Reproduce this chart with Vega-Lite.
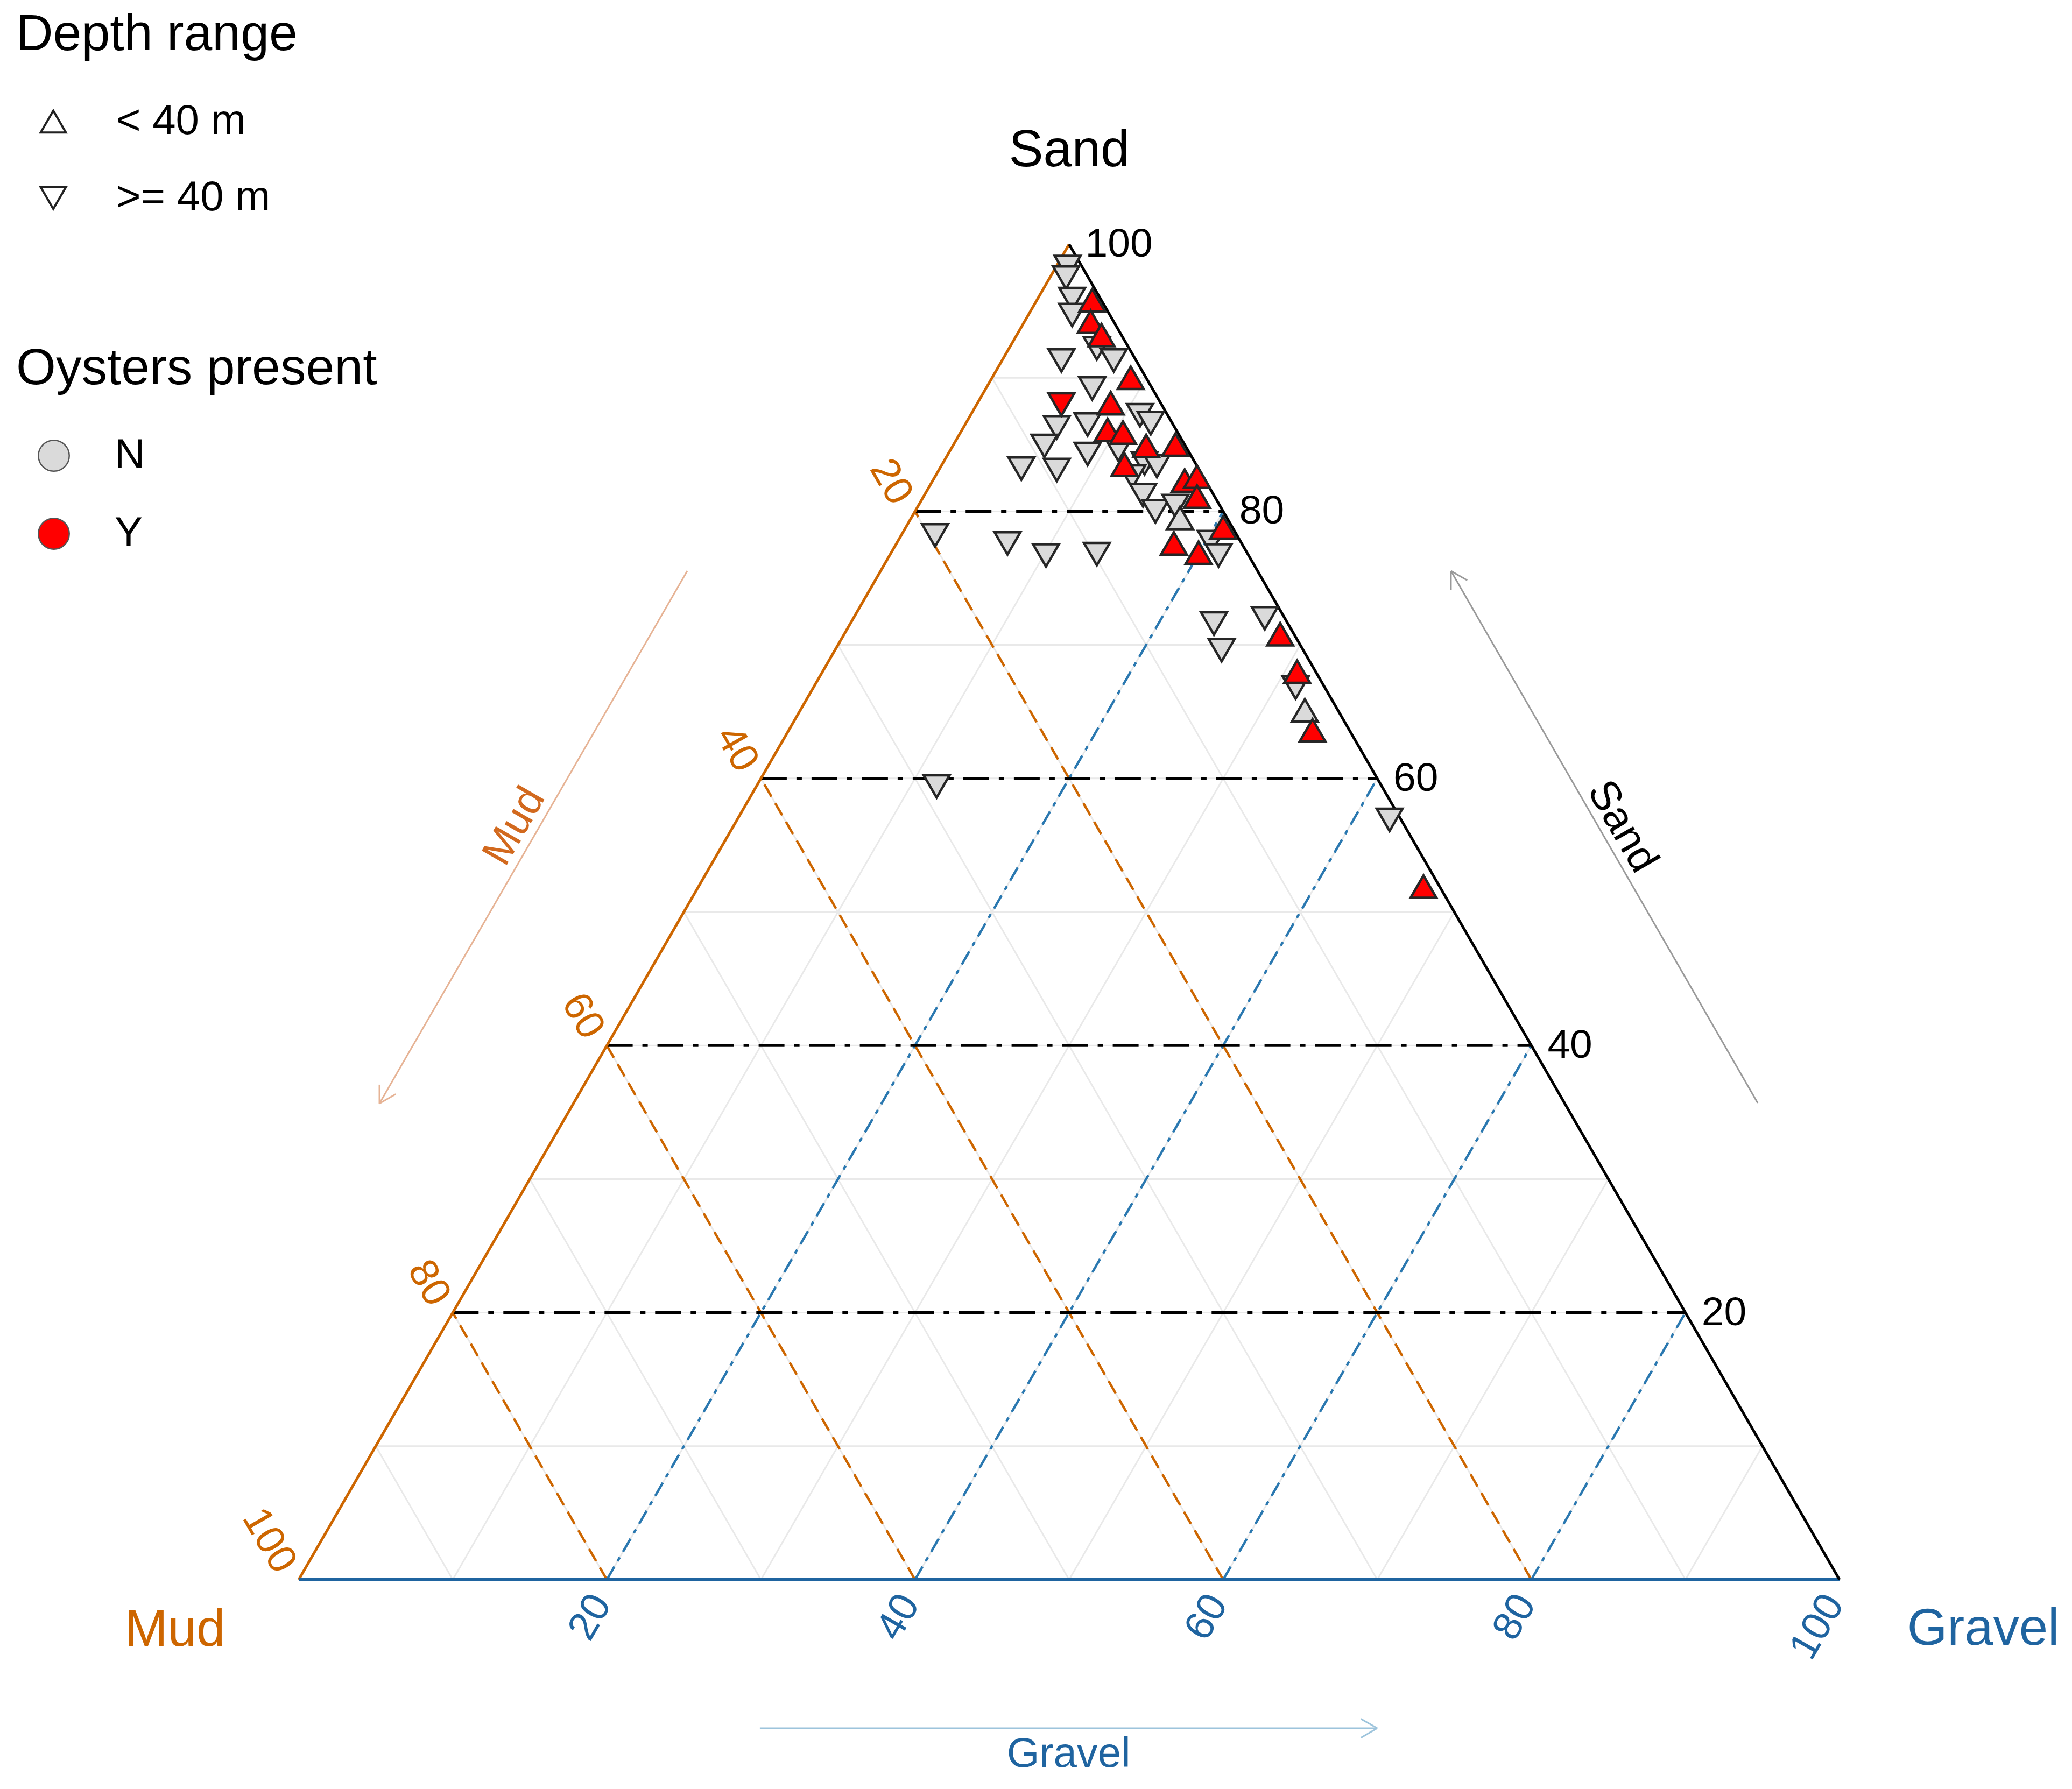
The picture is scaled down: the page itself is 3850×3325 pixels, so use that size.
{
  "$schema": "https://vega.github.io/schema/vega-lite/v6.json",
  "autosize": {"type": "none"},
  "padding": {"left": 555, "top": 454, "right": 432, "bottom": 389},
  "width": 2863,
  "height": 2482,
  "background": "white",
  "config": {"view": {"stroke": null}, "font": "Liberation Sans"},
  "datasets": {
    "grid": [
      {"axis": "sand", "k": 10, "tx": 5, "sand": 10, "tx2": 95, "sand2": 10},
      {"axis": "sand", "k": 20, "tx": 10, "sand": 20, "tx2": 90, "sand2": 20},
      {"axis": "sand", "k": 30, "tx": 15, "sand": 30, "tx2": 85, "sand2": 30},
      {"axis": "sand", "k": 40, "tx": 20, "sand": 40, "tx2": 80, "sand2": 40},
      {"axis": "sand", "k": 50, "tx": 25, "sand": 50, "tx2": 75, "sand2": 50},
      {"axis": "sand", "k": 60, "tx": 30, "sand": 60, "tx2": 70, "sand2": 60},
      {"axis": "sand", "k": 70, "tx": 35, "sand": 70, "tx2": 65, "sand2": 70},
      {"axis": "sand", "k": 80, "tx": 40, "sand": 80, "tx2": 60, "sand2": 80},
      {"axis": "sand", "k": 90, "tx": 45, "sand": 90, "tx2": 55, "sand2": 90},
      {"axis": "gravel", "k": 10, "tx": 10, "sand": 0, "tx2": 55, "sand2": 90},
      {"axis": "gravel", "k": 20, "tx": 20, "sand": 0, "tx2": 60, "sand2": 80},
      {"axis": "gravel", "k": 30, "tx": 30, "sand": 0, "tx2": 65, "sand2": 70},
      {"axis": "gravel", "k": 40, "tx": 40, "sand": 0, "tx2": 70, "sand2": 60},
      {"axis": "gravel", "k": 50, "tx": 50, "sand": 0, "tx2": 75, "sand2": 50},
      {"axis": "gravel", "k": 60, "tx": 60, "sand": 0, "tx2": 80, "sand2": 40},
      {"axis": "gravel", "k": 70, "tx": 70, "sand": 0, "tx2": 85, "sand2": 30},
      {"axis": "gravel", "k": 80, "tx": 80, "sand": 0, "tx2": 90, "sand2": 20},
      {"axis": "gravel", "k": 90, "tx": 90, "sand": 0, "tx2": 95, "sand2": 10},
      {"axis": "mud", "k": 10, "tx": 90, "sand": 0, "tx2": 45, "sand2": 90},
      {"axis": "mud", "k": 20, "tx": 80, "sand": 0, "tx2": 40, "sand2": 80},
      {"axis": "mud", "k": 30, "tx": 70, "sand": 0, "tx2": 35, "sand2": 70},
      {"axis": "mud", "k": 40, "tx": 60, "sand": 0, "tx2": 30, "sand2": 60},
      {"axis": "mud", "k": 50, "tx": 50, "sand": 0, "tx2": 25, "sand2": 50},
      {"axis": "mud", "k": 60, "tx": 40, "sand": 0, "tx2": 20, "sand2": 40},
      {"axis": "mud", "k": 70, "tx": 30, "sand": 0, "tx2": 15, "sand2": 30},
      {"axis": "mud", "k": 80, "tx": 20, "sand": 0, "tx2": 10, "sand2": 20},
      {"axis": "mud", "k": 90, "tx": 10, "sand": 0, "tx2": 5, "sand2": 10}
    ],
    "edges": [
      {"axis": "mud", "tx": 0, "sand": 0, "tx2": 50, "sand2": 100},
      {"axis": "gravel", "tx": 0, "sand": 0, "tx2": 100, "sand2": 0},
      {"axis": "sand", "tx": 100, "sand": 0, "tx2": 50, "sand2": 100}
    ],
    "points": [
      {"tx": 49.9, "sand": 98.3, "depth": ">= 40 m", "oysters": "N"},
      {"tx": 49.8, "sand": 97.5, "depth": ">= 40 m", "oysters": "N"},
      {"tx": 50.2, "sand": 95.9, "depth": ">= 40 m", "oysters": "N"},
      {"tx": 50.2, "sand": 94.7, "depth": ">= 40 m", "oysters": "N"},
      {"tx": 51.8, "sand": 92.2, "depth": ">= 40 m", "oysters": "N"},
      {"tx": 52.9, "sand": 91.3, "depth": ">= 40 m", "oysters": "N"},
      {"tx": 49.5, "sand": 91.3, "depth": ">= 40 m", "oysters": "N"},
      {"tx": 51.5, "sand": 89.2, "depth": ">= 40 m", "oysters": "N"},
      {"tx": 54.6, "sand": 87.2, "depth": ">= 40 m", "oysters": "N"},
      {"tx": 55.3, "sand": 86.6, "depth": ">= 40 m", "oysters": "N"},
      {"tx": 51.2, "sand": 86.5, "depth": ">= 40 m", "oysters": "N"},
      {"tx": 49.2, "sand": 86.3, "depth": ">= 40 m", "oysters": "N"},
      {"tx": 51.2, "sand": 84.3, "depth": ">= 40 m", "oysters": "N"},
      {"tx": 48.4, "sand": 84.9, "depth": ">= 40 m", "oysters": "N"},
      {"tx": 46.9, "sand": 83.2, "depth": ">= 40 m", "oysters": "N"},
      {"tx": 49.2, "sand": 83.1, "depth": ">= 40 m", "oysters": "N"},
      {"tx": 53.2, "sand": 84.6, "depth": ">= 40 m", "oysters": "N"},
      {"tx": 54.9, "sand": 83.6, "depth": ">= 40 m", "oysters": "N"},
      {"tx": 55.7, "sand": 83.4, "depth": ">= 40 m", "oysters": "N"},
      {"tx": 54.1, "sand": 82.6, "depth": ">= 40 m", "oysters": "N"},
      {"tx": 54.8, "sand": 81.2, "depth": ">= 40 m", "oysters": "N"},
      {"tx": 55.6, "sand": 80.0, "depth": ">= 40 m", "oysters": "N"},
      {"tx": 56.9, "sand": 80.4, "depth": ">= 40 m", "oysters": "N"},
      {"tx": 57.2, "sand": 79.5, "depth": "< 40 m", "oysters": "N"},
      {"tx": 59.2, "sand": 77.7, "depth": ">= 40 m", "oysters": "N"},
      {"tx": 59.7, "sand": 76.7, "depth": ">= 40 m", "oysters": "N"},
      {"tx": 46.0, "sand": 77.6, "depth": ">= 40 m", "oysters": "N"},
      {"tx": 48.5, "sand": 76.7, "depth": ">= 40 m", "oysters": "N"},
      {"tx": 51.8, "sand": 76.8, "depth": ">= 40 m", "oysters": "N"},
      {"tx": 41.3, "sand": 78.2, "depth": ">= 40 m", "oysters": "N"},
      {"tx": 59.4, "sand": 71.6, "depth": ">= 40 m", "oysters": "N"},
      {"tx": 59.9, "sand": 69.6, "depth": ">= 40 m", "oysters": "N"},
      {"tx": 62.7, "sand": 72.0, "depth": ">= 40 m", "oysters": "N"},
      {"tx": 64.7, "sand": 66.8, "depth": ">= 40 m", "oysters": "N"},
      {"tx": 65.3, "sand": 65.1, "depth": "< 40 m", "oysters": "N"},
      {"tx": 70.8, "sand": 56.9, "depth": ">= 40 m", "oysters": "N"},
      {"tx": 41.4, "sand": 59.4, "depth": ">= 40 m", "oysters": "N"},
      {"tx": 51.5, "sand": 95.8, "depth": "< 40 m", "oysters": "Y"},
      {"tx": 51.4, "sand": 94.2, "depth": "< 40 m", "oysters": "Y"},
      {"tx": 52.1, "sand": 93.2, "depth": "< 40 m", "oysters": "Y"},
      {"tx": 54.0, "sand": 90.0, "depth": "< 40 m", "oysters": "Y"},
      {"tx": 52.7, "sand": 88.1, "depth": "< 40 m", "oysters": "Y"},
      {"tx": 49.5, "sand": 88.0, "depth": ">= 40 m", "oysters": "Y"},
      {"tx": 52.5, "sand": 86.1, "depth": "< 40 m", "oysters": "Y"},
      {"tx": 53.5, "sand": 85.9, "depth": "< 40 m", "oysters": "Y"},
      {"tx": 55.0, "sand": 84.9, "depth": "< 40 m", "oysters": "Y"},
      {"tx": 56.9, "sand": 85.0, "depth": "< 40 m", "oysters": "Y"},
      {"tx": 53.6, "sand": 83.5, "depth": "< 40 m", "oysters": "Y"},
      {"tx": 57.5, "sand": 82.3, "depth": "< 40 m", "oysters": "Y"},
      {"tx": 58.3, "sand": 82.6, "depth": "< 40 m", "oysters": "Y"},
      {"tx": 58.3, "sand": 81.1, "depth": "< 40 m", "oysters": "Y"},
      {"tx": 60.0, "sand": 78.8, "depth": "< 40 m", "oysters": "Y"},
      {"tx": 56.8, "sand": 77.6, "depth": "< 40 m", "oysters": "Y"},
      {"tx": 58.4, "sand": 76.9, "depth": "< 40 m", "oysters": "Y"},
      {"tx": 63.7, "sand": 70.8, "depth": "< 40 m", "oysters": "Y"},
      {"tx": 64.8, "sand": 68.0, "depth": "< 40 m", "oysters": "Y"},
      {"tx": 65.8, "sand": 63.6, "depth": "< 40 m", "oysters": "Y"},
      {"tx": 73.0, "sand": 51.9, "depth": "< 40 m", "oysters": "Y"}
    ],
    "ticks": [
      {"axis": "sand", "label": "100", "tx": 50, "sand": 100},
      {"axis": "sand", "label": "80", "tx": 60, "sand": 80},
      {"axis": "sand", "label": "60", "tx": 70, "sand": 60},
      {"axis": "sand", "label": "40", "tx": 80, "sand": 40},
      {"axis": "sand", "label": "20", "tx": 90, "sand": 20},
      {"axis": "mud", "label": "20", "tx": 40, "sand": 80},
      {"axis": "mud", "label": "40", "tx": 30, "sand": 60},
      {"axis": "mud", "label": "60", "tx": 20, "sand": 40},
      {"axis": "mud", "label": "80", "tx": 10, "sand": 20},
      {"axis": "mud", "label": "100", "tx": 0, "sand": 0},
      {"axis": "gravel", "label": "20", "tx": 20, "sand": 0},
      {"axis": "gravel", "label": "40", "tx": 40, "sand": 0},
      {"axis": "gravel", "label": "60", "tx": 60, "sand": 0},
      {"axis": "gravel", "label": "80", "tx": 80, "sand": 0},
      {"axis": "gravel", "label": "100", "tx": 100, "sand": 0}
    ],
    "titles": [
      {"axis": "sand", "label": "Sand", "tx": 50, "sand": 100},
      {"axis": "mud", "label": "Mud", "tx": 0, "sand": 0},
      {"axis": "gravel", "label": "Gravel", "tx": 100, "sand": 0}
    ],
    "arrows": [
      {"axis": "mud", "tx": 25.22, "sand": 75.54, "tx2": 5.24, "sand2": 35.66},
      {"axis": "mud", "tx": 5.24, "sand": 35.66, "tx2": 6.3, "sand2": 36.36},
      {"axis": "mud", "tx": 5.24, "sand": 35.66, "tx2": 5.24, "sand2": 37.07},
      {"axis": "sand", "tx": 94.69, "sand": 35.7, "tx2": 74.78, "sand2": 75.54},
      {"axis": "sand", "tx": 74.78, "sand": 75.54, "tx2": 75.84, "sand2": 74.84},
      {"axis": "sand", "tx": 74.78, "sand": 75.54, "tx2": 74.78, "sand2": 74.13},
      {"axis": "gravel", "tx": 29.93, "sand": -11.12, "tx2": 70.0, "sand2": -11.12},
      {"axis": "gravel", "tx": 70.0, "sand": -11.12, "tx2": 68.94, "sand2": -11.83},
      {"axis": "gravel", "tx": 70.0, "sand": -11.12, "tx2": 68.94, "sand2": -10.42}
    ],
    "arrowLabels": [
      {"axis": "mud", "label": "Mud", "tx": 15.23, "sand": 55.6},
      {"axis": "sand", "label": "Sand", "tx": 84.74, "sand": 55.62},
      {"axis": "gravel", "label": "Gravel", "tx": 49.97, "sand": -11.12}
    ]
  },
  "encoding": {
    "x": {"field": "tx", "type": "quantitative", "scale": {"domain": [0, 100], "nice": false, "zero": false}, "axis": null},
    "y": {"field": "sand", "type": "quantitative", "scale": {"domain": [0, 100], "nice": false, "zero": false}, "axis": null}
  },
  "layer": [
    {
      "data": {"name": "grid"},
      "mark": {"type": "rule", "color": "#e9e9e9", "strokeWidth": 3},
      "encoding": {"x2": {"field": "tx2"}, "y2": {"field": "sand2"}}
    },
    {
      "data": {"name": "grid"},
      "transform": [{"filter": "datum.axis == 'mud' && datum.k % 20 == 0"}],
      "mark": {"type": "rule", "color": "#cd6600", "strokeWidth": 4.5, "strokeDash": [26, 14]},
      "encoding": {"x2": {"field": "tx2"}, "y2": {"field": "sand2"}}
    },
    {
      "data": {"name": "grid"},
      "transform": [{"filter": "datum.axis == 'gravel' && datum.k % 20 == 0"}],
      "mark": {"type": "rule", "color": "#2a78b0", "strokeWidth": 4.5, "strokeDash": [28, 12, 8, 12]},
      "encoding": {"x2": {"field": "tx2"}, "y2": {"field": "sand2"}}
    },
    {
      "data": {"name": "grid"},
      "transform": [{"filter": "datum.axis == 'sand' && datum.k % 20 == 0"}],
      "mark": {"type": "rule", "color": "#000000", "strokeWidth": 5, "strokeDash": [48, 18, 10, 18]},
      "encoding": {"x2": {"field": "tx2"}, "y2": {"field": "sand2"}}
    },
    {
      "data": {"name": "edges"},
      "transform": [{"filter": "datum.axis == 'mud'"}],
      "mark": {"type": "rule", "color": "#cd6600", "strokeWidth": 5},
      "encoding": {"x2": {"field": "tx2"}, "y2": {"field": "sand2"}}
    },
    {
      "data": {"name": "edges"},
      "transform": [{"filter": "datum.axis == 'gravel'"}],
      "mark": {"type": "rule", "color": "#1f64a0", "strokeWidth": 6},
      "encoding": {"x2": {"field": "tx2"}, "y2": {"field": "sand2"}}
    },
    {
      "data": {"name": "edges"},
      "transform": [{"filter": "datum.axis == 'sand'"}],
      "mark": {"type": "rule", "color": "#000000", "strokeWidth": 5},
      "encoding": {"x2": {"field": "tx2"}, "y2": {"field": "sand2"}}
    },
    {
      "data": {"name": "points"},
      "mark": {"type": "point", "filled": true, "size": 2300, "stroke": "#262626", "strokeWidth": 4.5, "opacity": 1},
      "encoding": {
        "shape": {
          "field": "depth", "type": "nominal",
          "scale": {"domain": ["< 40 m", ">= 40 m"], "range": ["triangle-up", "triangle-down"]},
          "legend": {
            "title": "Depth range", "orient": "none", "legendX": -525, "legendY": -436,
            "padding": 0, "titleFontSize": 95, "titleFontWeight": "normal", "titleColor": "#000000", "titleFont": "Liberation Sans",
            "titleLimit": 3000, "labelLimit": 3000,
            "titlePadding": 74, "labelFontSize": 78, "labelColor": "#000000", "labelFont": "Liberation Sans",
            "symbolSize": 2200, "symbolFillColor": "#ffffff", "symbolStrokeColor": "#222222", "symbolStrokeWidth": 4,
            "symbolOffset": 30, "labelOffset": 78, "rowPadding": 64
          }
        },
        "fill": {
          "field": "oysters", "type": "nominal",
          "scale": {"domain": ["N", "Y"], "range": ["#dadada", "#ff0000"]},
          "legend": {
            "title": "Oysters present", "orient": "none", "legendX": -525, "legendY": 185,
            "padding": 0, "titleFontSize": 95, "titleFontWeight": "normal", "titleColor": "#000000", "titleFont": "Liberation Sans",
            "titleLimit": 3000, "labelLimit": 3000,
            "titlePadding": 74, "labelFontSize": 78, "labelColor": "#000000", "labelFont": "Liberation Sans",
            "symbolType": "circle", "symbolSize": 3300, "symbolStrokeColor": "#555555", "symbolStrokeWidth": 2.5,
            "symbolOffset": 31, "labelOffset": 74, "rowPadding": 67
          }
        }
      }
    },
    {
      "data": {"name": "ticks"},
      "transform": [{"filter": "datum.axis == 'sand'"}],
      "mark": {"type": "text", "align": "left", "baseline": "middle", "dx": 30, "fontSize": 75, "color": "#000000"},
      "encoding": {"text": {"field": "label"}}
    },
    {
      "data": {"name": "ticks"},
      "transform": [{"filter": "datum.axis == 'mud'"}],
      "mark": {"type": "text", "align": "right", "baseline": "middle", "angle": 60, "dx": -28, "dy": 11, "fontSize": 75, "color": "#cd6600"},
      "encoding": {"text": {"field": "label"}}
    },
    {
      "data": {"name": "ticks"},
      "transform": [{"filter": "datum.axis == 'gravel'"}],
      "mark": {"type": "text", "align": "right", "baseline": "middle", "angle": -60, "dx": -34, "dy": 8, "fontSize": 75, "color": "#1f64a0"},
      "encoding": {"text": {"field": "label"}}
    },
    {
      "data": {"name": "titles"},
      "transform": [{"filter": "datum.axis == 'sand'"}],
      "mark": {"type": "text", "align": "center", "baseline": "middle", "dy": -174, "fontSize": 96, "color": "#000000"},
      "encoding": {"text": {"field": "label"}}
    },
    {
      "data": {"name": "titles"},
      "transform": [{"filter": "datum.axis == 'mud'"}],
      "mark": {"type": "text", "align": "center", "baseline": "middle", "dx": -230, "dy": 94, "fontSize": 96, "color": "#cd6600"},
      "encoding": {"text": {"field": "label"}}
    },
    {
      "data": {"name": "titles"},
      "transform": [{"filter": "datum.axis == 'gravel'"}],
      "mark": {"type": "text", "align": "center", "baseline": "middle", "dx": 267, "dy": 92, "fontSize": 96, "color": "#1f64a0"},
      "encoding": {"text": {"field": "label"}}
    },
    {
      "data": {"name": "arrows"},
      "transform": [{"filter": "datum.axis == 'mud'"}],
      "mark": {"type": "rule", "color": "#e6b395", "strokeWidth": 3},
      "encoding": {"x2": {"field": "tx2"}, "y2": {"field": "sand2"}}
    },
    {
      "data": {"name": "arrows"},
      "transform": [{"filter": "datum.axis == 'sand'"}],
      "mark": {"type": "rule", "color": "#9a9a9a", "strokeWidth": 3},
      "encoding": {"x2": {"field": "tx2"}, "y2": {"field": "sand2"}}
    },
    {
      "data": {"name": "arrows"},
      "transform": [{"filter": "datum.axis == 'gravel'"}],
      "mark": {"type": "rule", "color": "#9dc4dc", "strokeWidth": 3},
      "encoding": {"x2": {"field": "tx2"}, "y2": {"field": "sand2"}}
    },
    {
      "data": {"name": "arrowLabels"},
      "transform": [{"filter": "datum.axis == 'mud'"}],
      "mark": {"type": "text", "align": "center", "baseline": "middle", "angle": -60, "dy": -40, "fontSize": 78, "color": "#d2691e"},
      "encoding": {"text": {"field": "label"}}
    },
    {
      "data": {"name": "arrowLabels"},
      "transform": [{"filter": "datum.axis == 'sand'"}],
      "mark": {"type": "text", "align": "center", "baseline": "middle", "angle": 60, "dy": -38, "fontSize": 78, "color": "#000000"},
      "encoding": {"text": {"field": "label"}}
    },
    {
      "data": {"name": "arrowLabels"},
      "transform": [{"filter": "datum.axis == 'gravel'"}],
      "mark": {"type": "text", "align": "center", "baseline": "middle", "dy": 49, "fontSize": 78, "color": "#1f64a0"},
      "encoding": {"text": {"field": "label"}}
    }
  ]
}
